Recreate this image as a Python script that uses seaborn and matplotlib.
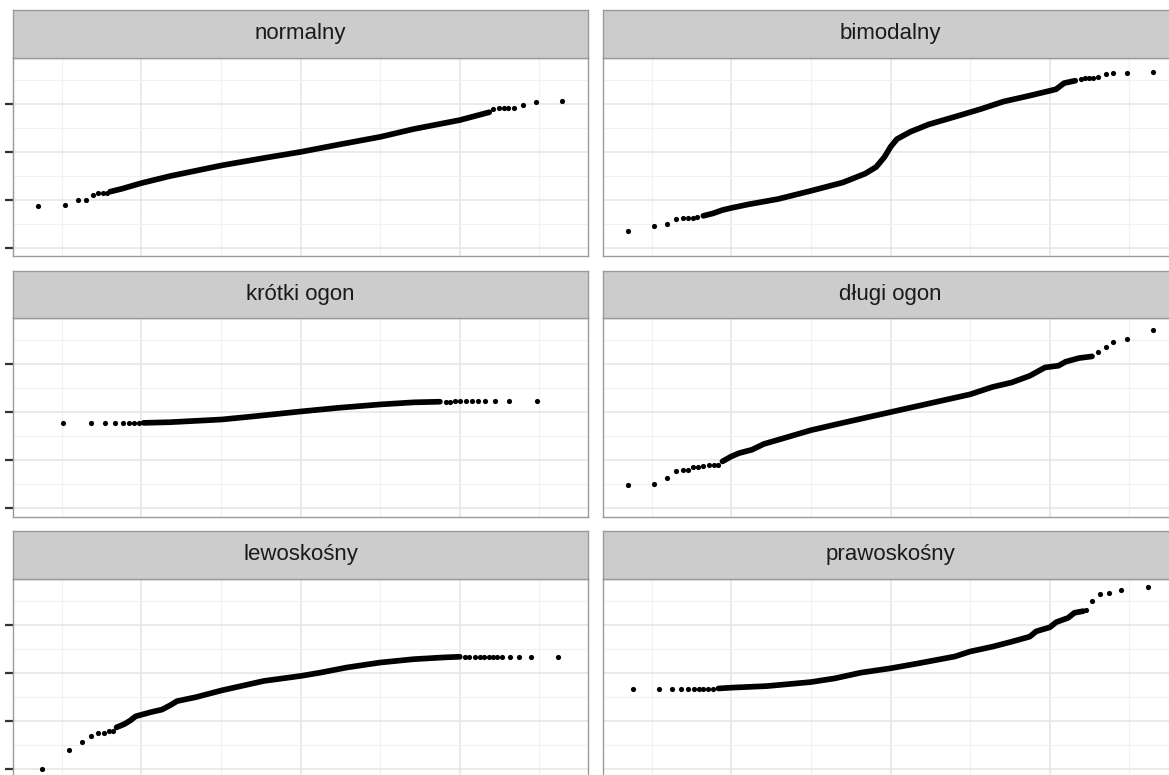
import matplotlib
matplotlib.use('Agg')
import matplotlib.pyplot as plt
import pandas as pd
import seaborn as sns

# values: theoretical quantile (x) vs sample value (y)
# single dots in the tails, dense middle part as a chain of points
normalny_tail_x = [-3.29, -2.96, -2.80, -2.69, -2.61, -2.54, -2.48, -2.43,
                   2.42, 2.49, 2.55, 2.61, 2.68, 2.79, 2.96, 3.28]
normalny_tail_y = [-3.36, -3.31, -3.00, -3.00, -2.69, -2.58, -2.58, -2.58,
                   2.66, 2.73, 2.77, 2.77, 2.77, 2.94, 3.13, 3.21]
normalny_body_x = [-2.39, -2.25, -2.00, -1.64, -0.99, -0.46, 0.00, 0.48, 1.00, 1.42, 2.00, 2.37]
normalny_body_y = [-2.48, -2.31, -1.95, -1.51, -0.84, -0.38, 0.00, 0.46, 0.94, 1.43, 1.99, 2.48]

bimodalny_tail_x = [-3.29, -2.97, -2.81, -2.69, -2.61, -2.54, -2.48, -2.43,
                    2.39, 2.44, 2.49, 2.54, 2.61, 2.70, 2.80, 2.97, 3.29]
bimodalny_tail_y = [-4.93, -4.64, -4.47, -4.20, -4.15, -4.15, -4.11, -4.07,
                    4.57, 4.60, 4.60, 4.62, 4.70, 4.87, 4.91, 4.91, 5.01]
bimodalny_body_x = [-2.35, -2.23, -2.11, -2.00, -1.78, -1.41, -1.00, -0.60, -0.32, -0.18, -0.075,
                    0.00, 0.08, 0.25, 0.48, 0.81, 1.14, 1.42, 1.75, 2.00, 2.08, 2.18, 2.32]
bimodalny_body_y = [-3.99, -3.84, -3.63, -3.50, -3.27, -2.94, -2.43, -1.91, -1.36, -0.94, -0.31,
                    0.31, 0.80, 1.26, 1.72, 2.20, 2.69, 3.15, 3.52, 3.82, 3.92, 4.30, 4.45]

krotki_tail_x = [-2.98, -2.63, -2.45, -2.33, -2.23, -2.15, -2.09, -2.03,
                 1.83, 1.88, 1.94, 2.00, 2.08, 2.15, 2.23, 2.32, 2.44, 2.62, 2.97]
krotki_tail_y = [-0.69, -0.69, -0.69, -0.67, -0.67, -0.67, -0.67, -0.67,
                 0.68, 0.68, 0.69, 0.69, 0.69, 0.69, 0.69, 0.70, 0.70, 0.70, 0.70]
krotki_body_x = [-1.97, -1.64, -0.99, -0.56, 0.00, 0.48, 1.00, 1.42, 1.75]
krotki_body_y = [-0.65, -0.61, -0.44, -0.23, 0.06, 0.29, 0.50, 0.63, 0.67]

dlugi_tail_x = [-3.29, -2.97, -2.81, -2.69, -2.61, -2.54, -2.48, -2.42, -2.35, -2.28, -2.21, -2.16,
                2.61, 2.70, 2.80, 2.97, 3.29]
dlugi_tail_y = [-4.55, -4.45, -4.11, -3.65, -3.59, -3.59, -3.40, -3.38, -3.34, -3.29, -3.27, -3.27,
                3.80, 4.07, 4.41, 4.57, 5.14]
dlugi_body_x = [-2.11, -2.00, -1.90, -1.74, -1.59, -1.26, -1.00, -0.60, 0.00, 0.53, 1.00,
                1.28, 1.52, 1.75, 1.94, 2.11, 2.20, 2.37, 2.53]
dlugi_body_y = [-3.06, -2.75, -2.54, -2.33, -1.97, -1.49, -1.11, -0.65, 0.02, 0.61, 1.13,
                1.59, 1.87, 2.29, 2.81, 2.92, 3.17, 3.40, 3.50]

lewo_tail_x = [-3.24, -2.91, -2.74, -2.63, -2.54, -2.47, -2.41, -2.36,
               2.06, 2.12, 2.19, 2.25, 2.31, 2.37, 2.42, 2.47, 2.53, 2.63, 2.74, 2.90, 3.23]
lewo_tail_y = [-6.00, -4.83, -4.34, -3.92, -3.78, -3.78, -3.65, -3.65,
               1.01, 1.01, 1.01, 1.01, 1.01, 1.01, 1.01, 1.01, 1.01, 1.01, 1.01, 1.01, 1.01]
lewo_body_x = [-2.31, -2.21, -2.14, -2.07, -1.88, -1.74, -1.64, -1.55, -1.31, -0.99, -0.46,
               0.00, 0.25, 0.58, 1.00, 1.42, 1.80, 2.00]
lewo_body_y = [-3.40, -3.19, -2.98, -2.71, -2.45, -2.29, -2.03, -1.76, -1.51, -1.09, -0.50,
               -0.19, 0.02, 0.34, 0.65, 0.86, 0.97, 1.01]

prawo_tail_x = [-3.23, -2.91, -2.74, -2.63, -2.54, -2.47, -2.41, -2.35, -2.29, -2.23,
                2.46, 2.53, 2.63, 2.74, 2.90, 3.23]
prawo_tail_y = [-1.01, -1.01, -1.01, -1.01, -1.01, -1.01, -1.01, -1.01, -1.01, -1.01,
                3.94, 4.49, 4.91, 4.99, 5.20, 5.35]
prawo_body_x = [-2.16, -2.00, -1.55, -1.00, -0.70, -0.37, 0.00, 0.34, 0.81, 1.00,
                1.28, 1.52, 1.75, 1.83, 2.00, 2.08, 2.23, 2.31, 2.42]
prawo_body_y = [-0.97, -0.92, -0.82, -0.57, -0.34, 0.02, 0.29, 0.59, 1.03, 1.34,
                1.64, 1.95, 2.27, 2.60, 2.85, 3.17, 3.44, 3.76, 3.86]

panels = [
    ('normalny', normalny_tail_x, normalny_tail_y, normalny_body_x, normalny_body_y),
    ('bimodalny', bimodalny_tail_x, bimodalny_tail_y, bimodalny_body_x, bimodalny_body_y),
    ('krótki ogon', krotki_tail_x, krotki_tail_y, krotki_body_x, krotki_body_y),
    ('długi ogon', dlugi_tail_x, dlugi_tail_y, dlugi_body_x, dlugi_body_y),
    ('lewoskośny', lewo_tail_x, lewo_tail_y, lewo_body_x, lewo_body_y),
    ('prawoskośny', prawo_tail_x, prawo_tail_y, prawo_body_x, prawo_body_y),
]

W, H = 1169, 775
border = '#9a9a9a'


def px_box(left, top, width, height):
    return [left / W, 1 - (top + height) / H, width / W, height / H]


def draw_panel(ax, tail_x, tail_y, body_x, body_y, first_col):
    body = pd.DataFrame({'x': body_x, 'y': body_y})
    tail = pd.DataFrame({'x': tail_x, 'y': tail_y})
    sns.lineplot(data=body, x='x', y='y', ax=ax, color='black', linewidth=4.1,
                 sort=False, estimator=None, solid_capstyle='round')
    sns.scatterplot(data=tail, x='x', y='y', ax=ax, color='black', s=14, linewidth=0)

    ax.set_xlim(-3.61, 3.61)
    ax.set_ylim(-6.5, 5.9)
    ax.set_xticks([-2, 0, 2])
    ax.set_xticks([-3, -1, 1, 3], minor=True)
    ax.set_yticks([-6, -3, 0, 3])
    ax.set_yticks([-4.5, -1.5, 1.5, 4.5], minor=True)
    ax.grid(which='major', color='#e6e6e6', linewidth=1.2)
    ax.grid(which='minor', color='#f1f1f1', linewidth=0.8)
    ax.set_axisbelow(True)
    ax.set_xlabel('')
    ax.set_ylabel('')
    ax.tick_params(axis='x', which='both', length=0, bottom=False, labelbottom=False)
    ax.tick_params(axis='y', which='minor', length=0, left=False)
    if first_col:
        ax.tick_params(axis='y', which='major', left=True, length=6, width=1.6,
                       color='#333333', labelleft=False)
    else:
        ax.tick_params(axis='y', which='major', left=False, length=0, labelleft=False)
    for s in ax.spines.values():
        s.set_color(border)
        s.set_linewidth(1.0)


def plot_qq_facets():
    sns.set_theme(style='white')
    plt.rcParams['font.family'] = ['Liberation Sans', 'DejaVu Sans']

    fig = plt.figure(figsize=(W / 100, H / 100), dpi=100)

    col_left = [13, 603]
    strip_top = [10, 270.5, 531]
    strip_h = 47.5
    panel_w, panel_h = 575, 198.5

    for i, (name, tx, ty, bx, by) in enumerate(panels):
        row, col = divmod(i, 2)
        left = col_left[col]
        top = strip_top[row]

        ax = fig.add_axes(px_box(left, top + strip_h, panel_w, panel_h))
        draw_panel(ax, tx, ty, bx, by, col == 0)

        sax = fig.add_axes(px_box(left, top, panel_w, strip_h))
        sax.set_facecolor('#cccccc')
        sax.set_xticks([])
        sax.set_yticks([])
        for s in sax.spines.values():
            s.set_color(border)
            s.set_linewidth(1.0)
        sax.text(0.5, 0.5, name, ha='center', va='center', fontsize=16,
                 color='#1a1a1a', transform=sax.transAxes)

    fig.savefig('out.png', dpi=100)


if __name__ == '__main__':
    plot_qq_facets()
